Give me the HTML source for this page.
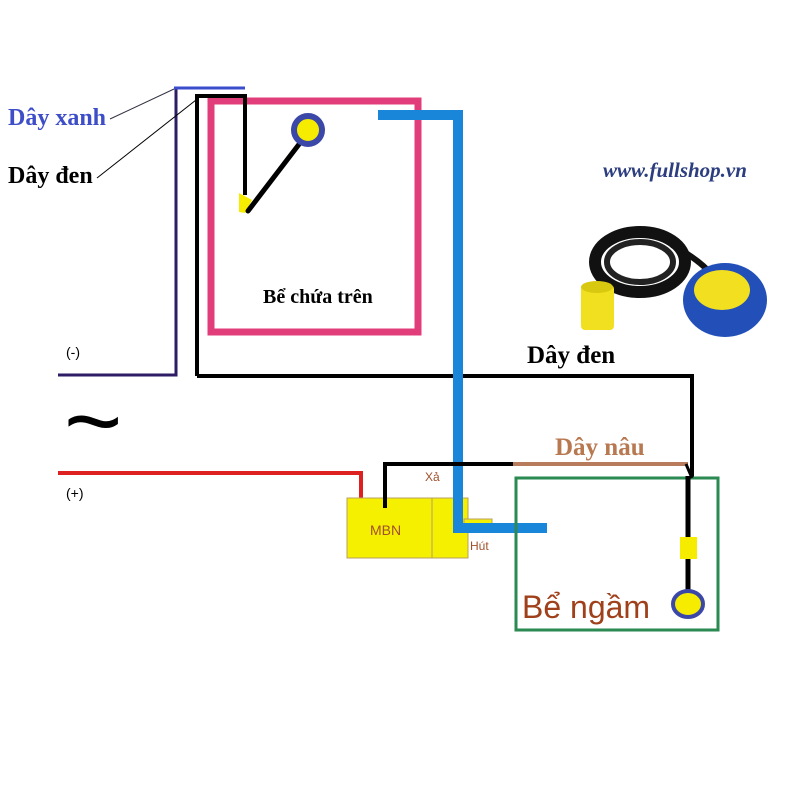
<!DOCTYPE html>
<html><head><style>body{margin:0;background:#fff}svg{display:block}</style></head><body>
<svg width="800" height="800" viewBox="0 0 800 800" xmlns="http://www.w3.org/2000/svg">
<rect width="800" height="800" fill="#fff"/>
<rect x="211" y="101" width="207" height="231" fill="none" stroke="#e03d7a" stroke-width="7"/>
<polyline points="245,88 176,88 176,375 58,375" fill="none" stroke="#2e1d66" stroke-width="3"/>
<line x1="174" y1="88" x2="245" y2="88" stroke="#3b4ccc" stroke-width="3"/>
<polyline points="197,376 197,96 245,96 245,195" fill="none" stroke="#000" stroke-width="4"/>
<polyline points="197,376 692,376 692,478" fill="none" stroke="#000" stroke-width="4"/>
<line x1="110" y1="119" x2="174" y2="89" stroke="#334" stroke-width="1"/>
<line x1="97" y1="178" x2="196" y2="100" stroke="#000" stroke-width="1"/>
<polygon points="239,193 252,200 245,213 239,212" fill="#f5ec00"/>
<line x1="248" y1="211" x2="300" y2="143" stroke="#000" stroke-width="5" stroke-linecap="round"/>
<circle cx="308" cy="130" r="14" fill="#f5ec00" stroke="#3b48a8" stroke-width="6"/>
<polyline points="378,115 458,115 458,528 547,528" fill="none" stroke="#1a86d9" stroke-width="10"/>
<polyline points="58,473 361,473 361,508" fill="none" stroke="#dd2020" stroke-width="4"/>
<rect x="347" y="498" width="85" height="60" fill="#f5f000" stroke="#b8a060" stroke-width="1"/>
<rect x="432" y="498" width="36" height="60" fill="#f5f000" stroke="#b8a060" stroke-width="1"/>
<rect x="464" y="519" width="28" height="6" fill="#f5f000" stroke="#b8a060" stroke-width="1"/>
<polyline points="458,113 458,528 547,528" fill="none" stroke="#1a86d9" stroke-width="10"/>
<polyline points="385,508 385,464 513,464" fill="none" stroke="#000" stroke-width="4"/>
<line x1="513" y1="464" x2="688" y2="464" stroke="#b87c5c" stroke-width="4"/>
<rect x="516" y="478" width="202" height="152" fill="none" stroke="#2a8a52" stroke-width="3"/>
<polyline points="686,464 692,478" fill="none" stroke="#000" stroke-width="3"/>
<line x1="688" y1="476" x2="688" y2="592" stroke="#000" stroke-width="5"/>
<rect x="680" y="537" width="17" height="22" fill="#f5ec00"/>
<ellipse cx="688" cy="604" rx="15" ry="13" fill="#f5ec00" stroke="#3b48a8" stroke-width="4"/>
<ellipse cx="640" cy="262" rx="45" ry="30" fill="none" stroke="#111" stroke-width="12"/>
<ellipse cx="640" cy="262" rx="33" ry="20" fill="none" stroke="#222" stroke-width="6"/>
<path d="M672 245 Q700 260 712 275" stroke="#111" stroke-width="6" fill="none"/>
<rect x="581" y="285" width="33" height="45" rx="4" fill="#f0e020"/>
<ellipse cx="597" cy="287" rx="16" ry="6" fill="#d8c810"/>
<ellipse cx="725" cy="300" rx="42" ry="37" fill="#2350b8"/>
<ellipse cx="722" cy="290" rx="28" ry="20" fill="#f2df20"/>
<g font-family="Liberation Serif, serif" font-weight="bold">
<text x="8" y="125" font-size="24" fill="#3d4ec8">Dây xanh</text>
<text x="8" y="183" font-size="24" fill="#000">Dây đen</text>
<text x="263" y="303" font-size="20" fill="#000">Bể chứa trên</text>
<text x="603" y="177" font-size="21" font-style="italic" fill="#2c3e80">www.fullshop.vn</text>
<text x="527" y="363" font-size="25" fill="#000">Dây đen</text>
<text x="555" y="455" font-size="25" fill="#b87850">Dây nâu</text>
</g>
<g font-family="Liberation Sans, sans-serif">
<text x="66" y="357" font-size="14" fill="#000">(-)</text>
<text x="66" y="498" font-size="14" fill="#000">(+)</text>
<text x="64" y="455" font-size="100" fill="#000">~</text>
<text x="425" y="481" font-size="12" fill="#a0502a">Xả</text>
<text x="370" y="535" font-size="14" fill="#a0502a">MBN</text>
<text x="470" y="550" font-size="12" fill="#a0502a">Hút</text>
<text x="522" y="618" font-size="32" fill="#a0401a">Bể ngầm</text>
</g>
</svg>
</body></html>
